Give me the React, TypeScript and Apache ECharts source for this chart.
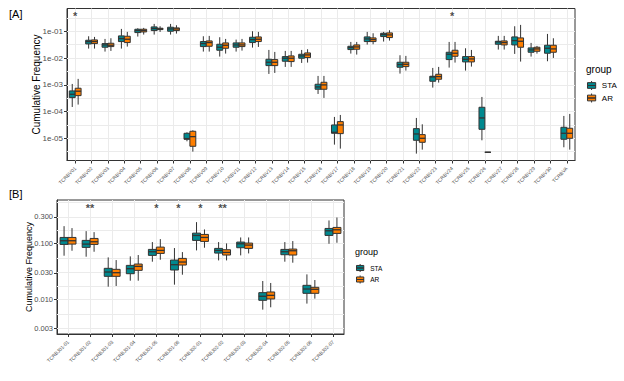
import React, { useEffect, useRef } from 'react';
import * as echarts from 'echarts';

// ---------- data (values are log10 of cumulative frequency) ----------
const vCats = [
  'TCRBV01', 'TCRBV02', 'TCRBV03', 'TCRBV04', 'TCRBV05', 'TCRBV06', 'TCRBV07', 'TCRBV08',
  'TCRBV09', 'TCRBV10', 'TCRBV11', 'TCRBV12', 'TCRBV13', 'TCRBV14', 'TCRBV15', 'TCRBV16',
  'TCRBV17', 'TCRBV18', 'TCRBV19', 'TCRBV20', 'TCRBV21', 'TCRBV22', 'TCRBV23', 'TCRBV24',
  'TCRBV25', 'TCRBV26', 'TCRBV27', 'TCRBV28', 'TCRBV29', 'TCRBV30', 'TCRBVA',
];

// [min, q1, median, q3, max]
const staV = [
  [-3.83, -3.48, -3.355, -3.23, -2.969],
  [-1.648, -1.474, -1.386, -1.336, -1.187],
  [-1.76, -1.598, -1.511, -1.461, -1.287],
  [-1.648, -1.386, -1.274, -1.174, -0.913],
  [-1.199, -1.05, -0.975, -0.925, -0.888],
  [-1.125, -0.975, -0.9, -0.838, -0.726],
  [-1.125, -1.0, -0.913, -0.85, -0.726],
  [-5.112, -5.037, -5.012, -4.813, -4.776],
  [-1.76, -1.573, -1.461, -1.386, -1.187],
  [-1.947, -1.71, -1.598, -1.486, -1.224],
  [-1.76, -1.598, -1.511, -1.436, -1.312],
  [-1.611, -1.424, -1.312, -1.224, -1.0],
  [-2.595, -2.284, -2.159, -2.047, -1.698],
  [-2.333, -2.121, -2.009, -1.947, -1.735],
  [-2.184, -2.009, -1.922, -1.86, -1.698],
  [-3.343, -3.168, -3.081, -2.981, -2.67],
  [-5.237, -4.813, -4.776, -4.502, -4.202],
  [-1.835, -1.685, -1.611, -1.561, -1.399],
  [-1.498, -1.386, -1.287, -1.212, -1.025],
  [-1.386, -1.199, -1.125, -1.075, -1.025],
  [-2.583, -2.346, -2.246, -2.159, -1.897],
  [-5.573, -5.075, -4.838, -4.639, -4.24],
  [-3.106, -2.869, -2.707, -2.682, -2.371],
  [-2.358, -2.059, -1.86, -1.785, -1.399],
  [-2.47, -2.146, -2.047, -1.947, -1.636],
  [-5.075, -4.664, -4.24, -3.841, -3.455],
  [-1.685, -1.486, -1.399, -1.374, -1.174],
  [-1.847, -1.511, -1.349, -1.212, -0.813],
  [-1.947, -1.785, -1.698, -1.623, -1.436],
  [-2.121, -1.822, -1.636, -1.523, -1.1],
  [-5.336, -5.037, -4.813, -4.589, -4.165],
];

const arV = [
  [-3.74, -3.405, -3.24, -3.13, -2.78],
  [-1.648, -1.461, -1.386, -1.324, -1.212],
  [-1.735, -1.573, -1.523, -1.449, -1.262],
  [-1.573, -1.424, -1.299, -1.187, -1.025],
  [-1.125, -1.025, -0.975, -0.925, -0.875],
  [-1.025, -0.938, -0.913, -0.888, -0.813],
  [-1.087, -0.975, -0.913, -0.875, -0.776],
  [-5.498, -5.299, -4.938, -4.738, -4.701],
  [-1.76, -1.561, -1.424, -1.361, -1.174],
  [-1.835, -1.636, -1.523, -1.436, -1.287],
  [-1.723, -1.573, -1.511, -1.436, -1.287],
  [-1.586, -1.386, -1.299, -1.212, -1.025],
  [-2.558, -2.284, -2.159, -2.059, -1.773],
  [-2.333, -2.134, -2.009, -1.922, -1.735],
  [-2.171, -1.984, -1.885, -1.81, -1.673],
  [-3.492, -3.168, -3.006, -2.907, -2.67],
  [-5.386, -4.826, -4.502, -4.377, -4.128],
  [-1.872, -1.673, -1.586, -1.511, -1.399],
  [-1.486, -1.386, -1.312, -1.249, -1.075],
  [-1.349, -1.237, -1.137, -1.062, -0.963],
  [-2.47, -2.321, -2.234, -2.159, -1.922],
  [-5.424, -5.15, -5.0, -4.863, -4.477],
  [-2.919, -2.794, -2.695, -2.607, -2.333],
  [-2.171, -1.935, -1.822, -1.71, -1.399],
  [-2.321, -2.146, -2.034, -1.947, -1.698],
  [-5.523, -5.523, -5.523, -5.523, -5.523],
  [-1.685, -1.511, -1.424, -1.361, -1.174],
  [-2.134, -1.598, -1.374, -1.249, -0.763],
  [-1.835, -1.748, -1.66, -1.598, -1.548],
  [-1.997, -1.785, -1.66, -1.523, -1.262],
  [-5.424, -5.0, -4.813, -4.626, -4.09],
];

const jCats = [
  'TCRBJ01-01', 'TCRBJ01-02', 'TCRBJ01-03', 'TCRBJ01-04', 'TCRBJ01-05', 'TCRBJ01-06',
  'TCRBJ02-01', 'TCRBJ02-02', 'TCRBJ02-03', 'TCRBJ02-04', 'TCRBJ02-05', 'TCRBJ02-06', 'TCRBJ02-07',
];

const staJ = [
  [-1.217, -1.015, -0.949, -0.89, -0.688],
  [-1.235, -1.068, -1.009, -0.943, -0.777],
  [-1.771, -1.586, -1.509, -1.443, -1.247],
  [-1.664, -1.539, -1.449, -1.39, -1.229],
  [-1.324, -1.211, -1.146, -1.104, -0.973],
  [-1.735, -1.473, -1.378, -1.295, -1.08],
  [-1.122, -0.943, -0.854, -0.813, -0.616],
  [-1.301, -1.17, -1.122, -1.086, -0.973],
  [-1.211, -1.074, -1.003, -0.973, -0.89],
  [-2.182, -2.015, -1.943, -1.878, -1.67],
  [-1.324, -1.199, -1.146, -1.104, -0.973],
  [-2.074, -1.89, -1.813, -1.747, -1.551],
  [-1.003, -0.854, -0.771, -0.729, -0.586],
];

const arJ = [
  [-1.128, -1.009, -0.949, -0.89, -0.723],
  [-1.146, -1.015, -0.967, -0.908, -0.795],
  [-1.759, -1.586, -1.521, -1.461, -1.295],
  [-1.664, -1.479, -1.408, -1.366, -1.205],
  [-1.289, -1.176, -1.122, -1.063, -0.92],
  [-1.557, -1.384, -1.33, -1.265, -1.152],
  [-1.074, -0.961, -0.89, -0.836, -0.747],
  [-1.301, -1.205, -1.158, -1.11, -0.997],
  [-1.176, -1.086, -1.027, -0.991, -0.89],
  [-2.14, -1.991, -1.926, -1.866, -1.705],
  [-1.342, -1.205, -1.128, -1.098, -0.955],
  [-1.985, -1.89, -1.818, -1.783, -1.652],
  [-0.985, -0.818, -0.753, -0.711, -0.533],
];

const topTickExps = [-5, -4, -3, -2, -1];
const bottomTicks = [0.003, 0.01, 0.03, 0.1, 0.3];

const topSig = [
  { cat: 'TCRBV01', mark: '*' },
  { cat: 'TCRBV24', mark: '*' },
];
const bottomSig = [
  { cat: 'TCRBJ01-02', mark: '**' },
  { cat: 'TCRBJ01-05', mark: '*' },
  { cat: 'TCRBJ01-06', mark: '*' },
  { cat: 'TCRBJ02-01', mark: '*' },
  { cat: 'TCRBJ02-02', mark: '**' },
];
const topSigLevel = -0.44;
const bottomSigLevel = -0.36;

const groups = ['STA', 'AR'];

// ---------- styles ----------
const COLORS = { STA: '#00898F', AR: '#FF7F00' };
const FONT = 'Liberation Sans, Arial, Helvetica, sans-serif';
const STROKE = '#333333';
const GRID_COLOR = '#EBEBEB';
const LEGEND_ICON = 'path://M0,2H10V5.5H0Z M0,5.5H10V9H0Z M5,0V2 M5,9V11';

function boxSeries(name: string, rows: number[][], color: string, idx: number, side: number) {
  return {
    type: 'custom',
    name,
    xAxisIndex: idx,
    yAxisIndex: idx,
    z: 3,
    itemStyle: { color, borderColor: STROKE, borderWidth: 1 },
    data: rows.map((r, i) => [i, ...r]),
    encode: { x: 0, y: [1, 2, 3, 4, 5] },
    renderItem: (_params: any, api: any) => {
      const i = api.value(0);
      const band = api.size([1, 0])[0];
      const w = band * 0.36;
      const cx = api.coord([i, 0])[0] + (side * w) / 2;
      const y = [1, 2, 3, 4, 5].map((k) => api.coord([i, api.value(k)])[1]);
      const x0 = cx - w / 2;
      return {
        type: 'group',
        children: [
          { type: 'line', shape: { x1: cx, y1: y[4], x2: cx, y2: y[3] }, style: { stroke: STROKE, lineWidth: 1 } },
          { type: 'line', shape: { x1: cx, y1: y[1], x2: cx, y2: y[0] }, style: { stroke: STROKE, lineWidth: 1 } },
          {
            type: 'rect',
            shape: { x: x0, y: y[3], width: w, height: y[1] - y[3] },
            style: { fill: color, stroke: STROKE, lineWidth: 1 },
          },
          { type: 'line', shape: { x1: x0, y1: y[2], x2: x0 + w, y2: y[2] }, style: { stroke: STROKE, lineWidth: 1.3 } },
        ],
      };
    },
  };
}

function sigSeries(idx: number, cats: string[], sig: { cat: string; mark: string }[], level: number, gridLines: number[]) {
  return {
    type: 'scatter',
    name: 'sig' + idx,
    xAxisIndex: idx,
    yAxisIndex: idx,
    symbol: 'circle',
    symbolSize: 1,
    itemStyle: { color: 'rgba(0,0,0,0)' },
    silent: true,
    data: sig.map((s) => ({
      value: [cats.indexOf(s.cat), level],
      label: { formatter: s.mark },
    })),
    label: { show: true, position: 'inside', color: '#1A1A1A', fontSize: 11, fontWeight: 'bold', fontFamily: FONT },
    markLine: {
      silent: true,
      z: 1,
      symbol: ['none', 'none'],
      label: { show: false },
      lineStyle: { color: GRID_COLOR, width: 1, type: 'solid' },
      emphasis: { disabled: true },
      data: [
        ...cats.map((_c, i) => ({ xAxis: i })),
        ...gridLines.map((v) => ({ yAxis: v })),
      ],
    },
  };
}

export default function App() {
  const ref = useRef<HTMLDivElement>(null);

  useEffect(() => {
    document.body.style.margin = '0';
    if (!ref.current) return;
    const chart = echarts.init(ref.current, undefined, { renderer: 'svg' });

    const topGrid: number[] = [];
    for (let v = -5.5; v <= -0.5 + 1e-9; v += 0.5) topGrid.push(v);
    const bLogs = bottomTicks.map((t) => Math.log10(t));
    const bottomGrid: number[] = [...bLogs];
    for (let k = 0; k < bLogs.length - 1; k++) bottomGrid.push((bLogs[k] + bLogs[k + 1]) / 2);
    bottomGrid.push(bLogs[bLogs.length - 1] / 2);

    const xAxisCommon = {
      type: 'category',
      axisLine: { show: true, lineStyle: { color: STROKE, width: 1 } },
      axisTick: { show: true, alignWithLabel: true, length: 3, lineStyle: { color: STROKE } },
      axisLabel: { interval: 0, rotate: 45, fontSize: 5, color: '#4D4D4D', margin: 7, fontFamily: FONT },
      splitLine: { show: false },
    };

    const option: any = {
      animation: false,
      textStyle: { fontFamily: FONT },
      title: [
        { text: '[A]', left: 9, top: 8, padding: 0, textStyle: { fontSize: 11, fontWeight: 'normal', color: '#000', fontFamily: FONT } },
        { text: '[B]', left: 9, top: 188, padding: 0, textStyle: { fontSize: 11, fontWeight: 'normal', color: '#000', fontFamily: FONT } },
        { text: 'group', left: 586, top: 64, padding: 0, textStyle: { fontSize: 10, fontWeight: 'normal', color: '#000', fontFamily: FONT } },
        { text: 'group', left: 355, top: 247, padding: 0, textStyle: { fontSize: 9, fontWeight: 'normal', color: '#000', fontFamily: FONT } },
      ],
      legend: [
        {
          data: groups, left: 587, top: 80.5, orient: 'vertical', padding: 0,
          itemWidth: 10.5, itemHeight: 9, itemGap: 2.5, icon: LEGEND_ICON, selectedMode: false,
          itemStyle: { borderColor: STROKE, borderWidth: 1 },
          textStyle: { fontSize: 8, color: '#000', lineHeight: 9, fontFamily: FONT },
        },
        {
          data: groups, left: 356, top: 263.5, orient: 'vertical', padding: 0,
          itemWidth: 10, itemHeight: 8, itemGap: 2.5, icon: LEGEND_ICON, selectedMode: false,
          itemStyle: { borderColor: STROKE, borderWidth: 1 },
          textStyle: { fontSize: 6.5, color: '#000', lineHeight: 8, fontFamily: FONT },
        },
      ],
      grid: [
        { left: 67, top: 8.5, width: 508, height: 152, show: true, borderColor: STROKE, borderWidth: 1, backgroundColor: 'transparent' },
        { left: 57, top: 200, width: 287, height: 134, show: true, borderColor: STROKE, borderWidth: 1, backgroundColor: 'transparent' },
      ],
      xAxis: [
        { ...xAxisCommon, gridIndex: 0, data: vCats },
        { ...xAxisCommon, gridIndex: 1, data: jCats },
      ],
      yAxis: [
        {
          type: 'value', gridIndex: 0, min: -5.83, max: -0.15,
          name: 'Cumulative Frequency', nameLocation: 'middle', nameGap: 26, nameMoveOverlap: false,
          nameTextStyle: { fontSize: 10, color: '#000', fontFamily: FONT },
          axisLine: { show: true, lineStyle: { color: STROKE, width: 1 } },
          axisTick: { show: true, length: 3, lineStyle: { color: STROKE }, customValues: topTickExps },
          splitLine: { show: false },
          axisLabel: {
            customValues: topTickExps, fontSize: 8, color: '#4D4D4D', margin: 4, fontFamily: FONT,
            formatter: (v: number) => '1e-' + String(Math.abs(Math.round(v))).padStart(2, '0'),
          },
        },
        {
          type: 'value', gridIndex: 1, min: -2.618, max: -0.22,
          name: 'Cumulative Frequency', nameLocation: 'middle', nameGap: 24, nameMoveOverlap: false,
          nameTextStyle: { fontSize: 9, color: '#000', fontFamily: FONT },
          axisLine: { show: true, lineStyle: { color: STROKE, width: 1 } },
          axisTick: { show: true, length: 3, lineStyle: { color: STROKE }, customValues: bLogs },
          splitLine: { show: false },
          axisLabel: {
            customValues: bLogs, fontSize: 7.5, color: '#4D4D4D', margin: 4, fontFamily: FONT,
            formatter: (v: number) => Math.pow(10, v).toFixed(3),
          },
        },
      ],
      series: [
        sigSeries(0, vCats, topSig, topSigLevel, topGrid),
        sigSeries(1, jCats, bottomSig, bottomSigLevel, bottomGrid),
        boxSeries('STA', staV, COLORS.STA, 0, -1),
        boxSeries('AR', arV, COLORS.AR, 0, 1),
        boxSeries('STA', staJ, COLORS.STA, 1, -1),
        boxSeries('AR', arJ, COLORS.AR, 1, 1),
      ],
    };

    chart.setOption(option);
    return () => chart.dispose();
  }, []);

  return <div ref={ref} style={{ width: 624, height: 381 }} />;
}
